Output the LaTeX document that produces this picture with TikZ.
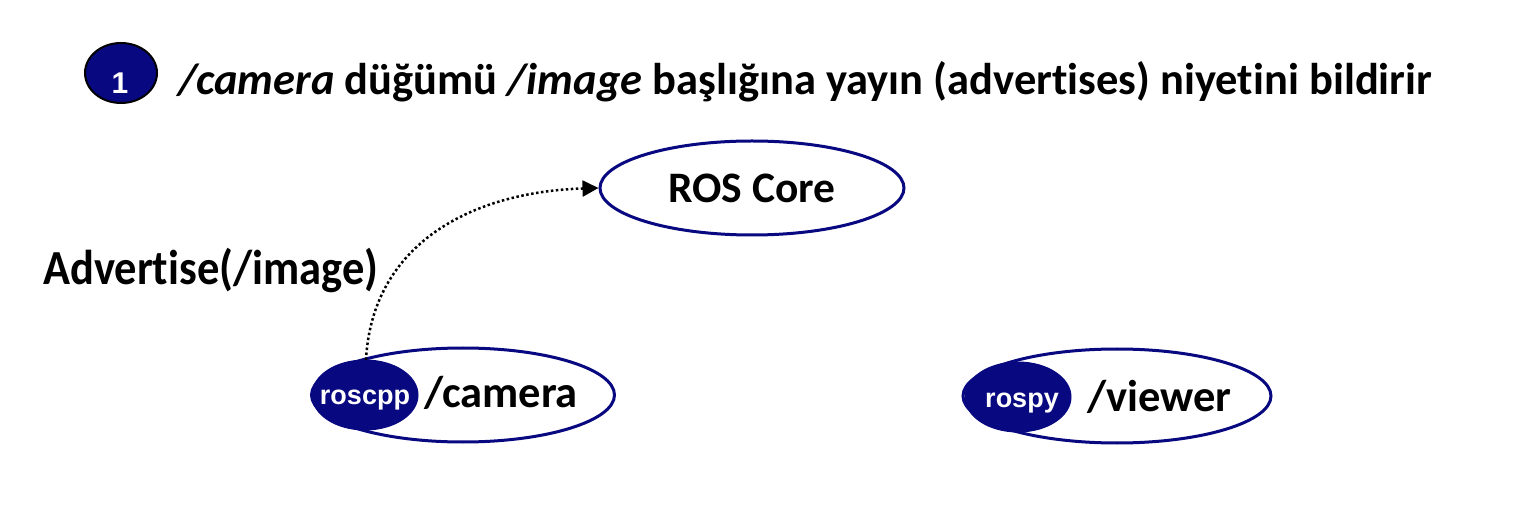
\documentclass[tikz,border=0pt]{standalone}
\usepackage{fontspec}
\setmainfont[Ligatures=NoCommon]{Carlito}
\newfontfamily\arialfont{Liberation Sans}
\usetikzlibrary{shapes.geometric,arrows.meta}
\definecolor{rosnavy}{RGB}{8,8,128}
\begin{document}
\begin{tikzpicture}[x=1pt,y=-1pt,
  nodeell/.style={ellipse, draw=rosnavy, line width=3pt, fill=white, inner sep=0pt},
  libell/.style={ellipse, fill=rosnavy, draw=rosnavy, line width=1pt, inner sep=0pt, minimum width=106pt, minimum height=70pt},
  bigtxt/.style={font=\fontsize{43.5}{48}\selectfont\bfseries, inner sep=0pt},
  titletxt/.style={font=\fontsize{44.5}{48}\selectfont\bfseries, inner sep=0pt},
  libtxt/.style={font=\arialfont\fontsize{27}{30}\selectfont\bfseries, text=white, inner sep=0pt}]
\useasboundingbox (0,0) rectangle (1518,526);
% step badge
\node[ellipse, draw=black, line width=2pt, fill=rosnavy, minimum width=72pt, minimum height=60pt, inner sep=0pt] (badge) at (121,73) {};
\node[font=\arialfont\fontsize{30}{32}\selectfont, text=white, inner sep=0pt, anchor=base] (badgenum) at (120,94) {\textbf{1}};
\node[titletxt, anchor=base west] (title) at (178,95) {\itshape /camera\/\upshape{} düğümü \itshape /image\/\upshape{} başlığına yayın (advertises) niyetini bildirir};
% ROS core
\node[nodeell, minimum width=304pt, minimum height=94pt] (core) at (752,188) {};
\node[bigtxt, anchor=base] (coretxt) at (752,203) {ROS Core};
% camera
\node[nodeell, minimum width=303pt, minimum height=94pt] (cam) at (463,395) {};
\node[libell] (roscpp) at (365,395) {};
\node[libtxt, anchor=base] (roscpptxt) at (365,405) {roscpp};
\node[titletxt, anchor=base west] (camtxt) at (424,408) {/camera};
% viewer
\node[nodeell, minimum width=308pt, minimum height=94pt] (view) at (1117,396) {};
\node[libell] (rospy) at (1018,397) {};
\node[libtxt, anchor=base] (rospytxt) at (1022,407) {rospy};
\node[titletxt, anchor=base west] (viewtxt) at (1087,411) {/viewer};
% advertise arrow
\coordinate (advstart) at (366,360);
\draw[line width=2.5pt, dash pattern=on 2.5pt off 2.5pt, -{Triangle[length=16pt,width=16pt]}]
  (advstart) .. controls (372,245) and (470,192) .. (core.west);
\node[titletxt, anchor=base west] (advlabel) at (43,285) {\scalebox{1}[1.1]{Advertise(/image)}};
\end{tikzpicture}
\end{document}
